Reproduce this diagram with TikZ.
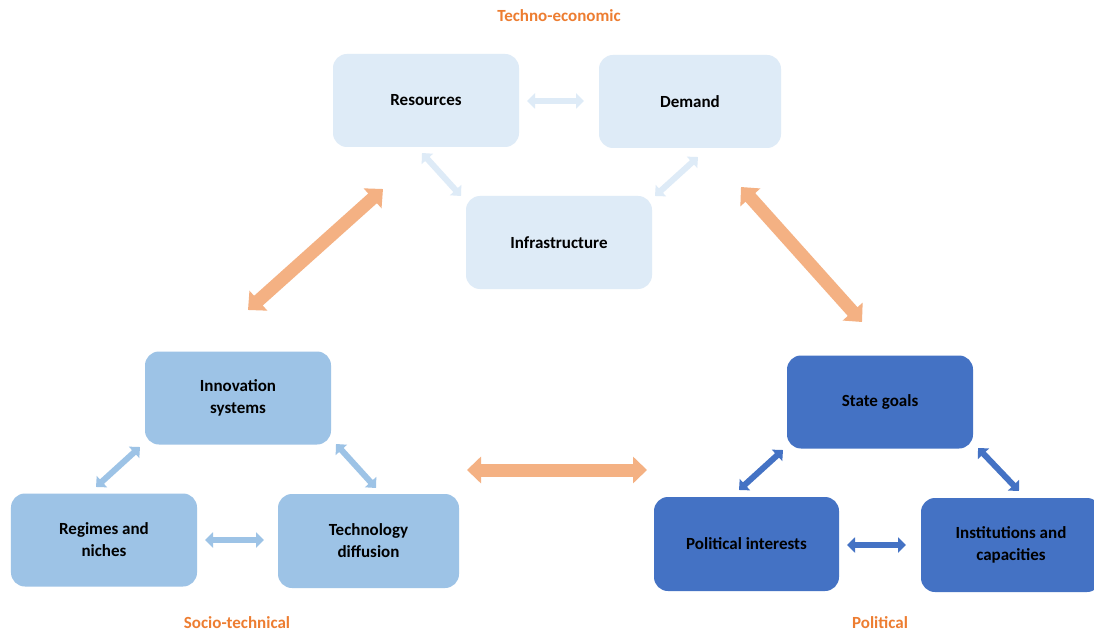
\documentclass[tikz,border=0pt]{standalone}
\usepackage{fontspec}
\setmainfont{Carlito}
\usetikzlibrary{arrows.meta}
\definecolor{boxlt}{HTML}{DEEBF7}
\definecolor{boxmd}{HTML}{9DC3E6}
\definecolor{boxdk}{HTML}{4472C4}
\definecolor{arrorg}{HTML}{F4B183}
\definecolor{lblorg}{HTML}{ED7D31}
\tikzset{
  box/.style={rounded corners=14bp, minimum width=186bp, minimum height=93bp, align=center,
    font=\fontsize{17bp}{22bp}\selectfont\bfseries, text=black, inner sep=0pt},
  smallarr/.style={line width=6bp, {Triangle[width=15bp,length=8bp]}-{Triangle[width=15bp,length=8bp]}},
  bigarr/.style={draw=arrorg, line width=13bp, {Triangle[width=26bp,length=14bp]}-{Triangle[width=26bp,length=14bp]}},
  grplabel/.style={text=lblorg, font=\fontsize{17bp}{20bp}\selectfont\bfseries}
}
\begin{document}
\begin{tikzpicture}[x=1bp,y=-1bp]
\useasboundingbox (0,0) rectangle (1094,635);
\clip (0,0) rectangle (1094,635);
\fill[white] (0,0) rectangle (1094,635);

% Techno-economic
\node[box, fill=boxlt] (res) at (426,100.5) {Resources};
\node[box, fill=boxlt, minimum width=182bp] (dem) at (690,101.5) {Demand};
\node[box, fill=boxlt] (inf) at (559,242.5) {Infrastructure};

% Socio-technical
\node[box, fill=boxmd] (inn) at (238,398) {Innovation\\systems};
\node[box, fill=boxmd] (reg) at (104,540) {Regimes and\\niches};
\node[box, fill=boxmd, minimum width=181bp, minimum height=94bp] (tec) at (368.5,541) {Technology\\diffusion};

% Political
\node[box, fill=boxdk] (sta) at (880,402) {State goals};
\node[box, fill=boxdk, minimum width=185bp, minimum height=94bp] (pol) at (746.5,544) {Political interests};
\node[box, fill=boxdk, minimum width=180bp, minimum height=94bp] (ins) at (1011,545) {Institutions and\\capacities};

% Group labels
\node[grplabel] (lte) at (559,16) {Techno-economic};
\node[grplabel] (lst) at (237,623) {Socio-technical};
\node[grplabel] (lpo) at (880,623) {Political};

% Arrow end points
\coordinate (rd1) at (527,101);  \coordinate (rd2) at (584,101);
\coordinate (ri1) at (422,153);  \coordinate (ri2) at (461,196);
\coordinate (di1) at (698,157);  \coordinate (di2) at (655,196);
\coordinate (ir1) at (140,447);  \coordinate (ir2) at (96,487);
\coordinate (it1) at (336,444);  \coordinate (it2) at (376,488);
\coordinate (rt1) at (205,540);  \coordinate (rt2) at (264,540);
\coordinate (sp1) at (783,450);  \coordinate (sp2) at (739,490);
\coordinate (si1) at (978,448);  \coordinate (si2) at (1019,491);
\coordinate (pi1) at (847,545);  \coordinate (pi2) at (906,545);
\coordinate (o11) at (383,189);  \coordinate (o12) at (248,310);
\coordinate (o21) at (741,187);  \coordinate (o22) at (862,322);
\coordinate (o31) at (467,470);  \coordinate (o32) at (647,470);

% Small arrows
\draw[smallarr, draw=boxlt] (rd1) -- (rd2);
\draw[smallarr, draw=boxlt] (ri1) -- (ri2);
\draw[smallarr, draw=boxlt] (di1) -- (di2);
\draw[smallarr, draw=boxmd] (ir1) -- (ir2);
\draw[smallarr, draw=boxmd] (it1) -- (it2);
\draw[smallarr, draw=boxmd] (rt1) -- (rt2);
\draw[smallarr, draw=boxdk] (sp1) -- (sp2);
\draw[smallarr, draw=boxdk] (si1) -- (si2);
\draw[smallarr, draw=boxdk] (pi1) -- (pi2);

% Big arrows
\draw[bigarr] (o11) -- (o12);
\draw[bigarr] (o21) -- (o22);
\draw[bigarr] (o31) -- (o32);
\end{tikzpicture}
\end{document}
